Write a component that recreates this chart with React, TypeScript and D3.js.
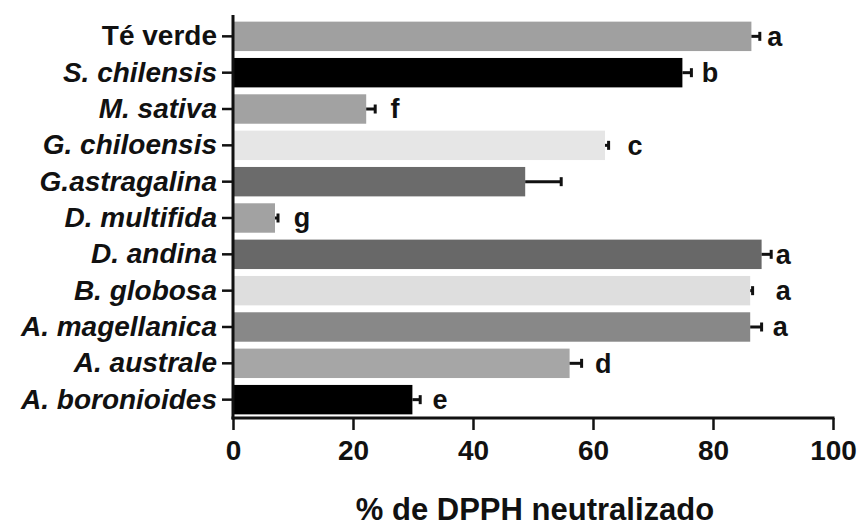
import React, { useEffect, useRef } from "react";
import * as d3 from "d3";

// species / sample names, top to bottom
const names = [
    "Té verde",
    "S. chilensis",
    "M. sativa",
    "G. chiloensis",
    "G.astragalina",
    "D. multifida",
    "D. andina",
    "B. globosa",
    "A. magellanica",
    "A. australe",
    "A. boronioides",
];
const italic = [false, true, true, true, true, true, true, true, true, true, true];
const means = [86.4, 74.9, 22.2, 62.0, 48.7, 7.0, 88.1, 86.2, 86.2, 56.1, 29.9];
const errs = [1.4, 1.5, 1.5, 0.6, 6.0, 0.5, 1.6, 0.4, 1.9, 2.0, 1.3];
const fills = [
    "#a0a0a0",
    "#000000",
    "#a2a2a2",
    "#e6e6e6",
    "#6b6b6b",
    "#a2a2a2",
    "#686868",
    "#dedede",
    "#888888",
    "#a6a6a6",
    "#000000",
];
const letters = ["a", "b", "f", "c", "", "g", "a", "a", "a", "d", "e"];
// where the significance letter sits, in % units
const letterAt = [90.3, 79.5, 27, 67, 0, 11.5, 91.7, 91.7, 91.2, 61.7, 34.5];
const xTicks = [0, 20, 40, 60, 80, 100];
const xTitle = "% de DPPH neutralizado";

export default function App() {
    const width = 859;
    const height = 530;
    const margin = { left: 233, right: 26, top: 18, bottom: 112 };
    const svgRef = useRef<SVGSVGElement>(null);

    useEffect(() => {
        const svg = d3.select(svgRef.current);
        svg.selectAll("*").remove();
        const font = "'Liberation Sans', Arial, sans-serif";
        const ink = "#111";

        const x = d3
            .scaleLinear()
            .domain([0, 100])
            .range([margin.left, width - margin.right]);
        const y = d3
            .scaleBand()
            .domain(names)
            .range([margin.top, height - margin.bottom])
            .paddingInner(0.19)
            .paddingOuter(0.1);
        const bottom = height - margin.bottom;

        // bars
        svg.append("g")
            .selectAll("rect")
            .data(names)
            .join("rect")
            .attr("x", x(0))
            .attr("y", (d) => y(d)!)
            .attr("width", (d, i) => x(means[i]) - x(0))
            .attr("height", y.bandwidth())
            .attr("fill", (d, i) => fills[i]);

        // error bars (upper side only)
        const eb = svg.append("g").attr("stroke", ink).attr("stroke-width", 3);
        names.forEach((n, i) => {
            const cy = y(n)! + y.bandwidth() / 2;
            eb.append("line")
                .attr("x1", x(means[i]))
                .attr("x2", x(means[i] + errs[i]))
                .attr("y1", cy)
                .attr("y2", cy);
            eb.append("line")
                .attr("x1", x(means[i] + errs[i]))
                .attr("x2", x(means[i] + errs[i]))
                .attr("y1", cy - 4.5)
                .attr("y2", cy + 4.5);
        });

        // letters
        svg.append("g")
            .selectAll("text")
            .data(names)
            .join("text")
            .attr("x", (d, i) => x(letterAt[i]))
            .attr("y", (d) => y(d)! + y.bandwidth() / 2)
            .attr("dy", "0.35em")
            .attr("text-anchor", "middle")
            .attr("font-family", font)
            .attr("font-weight", "bold")
            .attr("font-size", 27)
            .attr("fill", ink)
            .text((d, i) => letters[i]);

        // y axis
        const yAxis = svg
            .append("g")
            .attr("transform", `translate(${x(0)},0)`)
            .call(d3.axisLeft(y).tickSize(11).tickSizeOuter(0).tickPadding(5));
        yAxis.select(".domain").remove();
        yAxis.selectAll(".tick line").attr("stroke", ink).attr("stroke-width", 2.5);
        yAxis
            .selectAll<SVGTextElement, string>(".tick text")
            .attr("font-family", font)
            .attr("font-weight", "bold")
            .attr("font-size", 28)
            .attr("fill", ink)
            .attr("font-style", (d) => (italic[names.indexOf(d)] ? "italic" : "normal"));
        svg.append("line")
            .attr("x1", x(0))
            .attr("x2", x(0))
            .attr("y1", 15)
            .attr("y2", bottom + 1.5)
            .attr("stroke", ink)
            .attr("stroke-width", 3);

        // x axis
        const xAxis = svg
            .append("g")
            .attr("transform", `translate(0,${bottom})`)
            .call(d3.axisBottom(x).tickValues(xTicks).tickSize(12).tickPadding(10));
        xAxis.select(".domain").remove();
        xAxis.selectAll(".tick line").attr("stroke", ink).attr("stroke-width", 2.5);
        xAxis
            .selectAll(".tick text")
            .attr("font-family", font)
            .attr("font-weight", "bold")
            .attr("font-size", 28)
            .attr("fill", ink);
        svg.append("line")
            .attr("x1", x(0) - 1.5)
            .attr("x2", x(100) + 1.5)
            .attr("y1", bottom)
            .attr("y2", bottom)
            .attr("stroke", ink)
            .attr("stroke-width", 3);

        svg.append("text")
            .attr("x", 535)
            .attr("y", 520)
            .attr("text-anchor", "middle")
            .attr("font-family", font)
            .attr("font-weight", "bold")
            .attr("font-size", 31)
            .attr("fill", ink)
            .text(xTitle);
    }, []);

    return (
        <svg
            ref={svgRef}
            width={width}
            height={height}
            style={{ position: "absolute", left: 0, top: 0, background: "#fff" }}
        />
    );
}
